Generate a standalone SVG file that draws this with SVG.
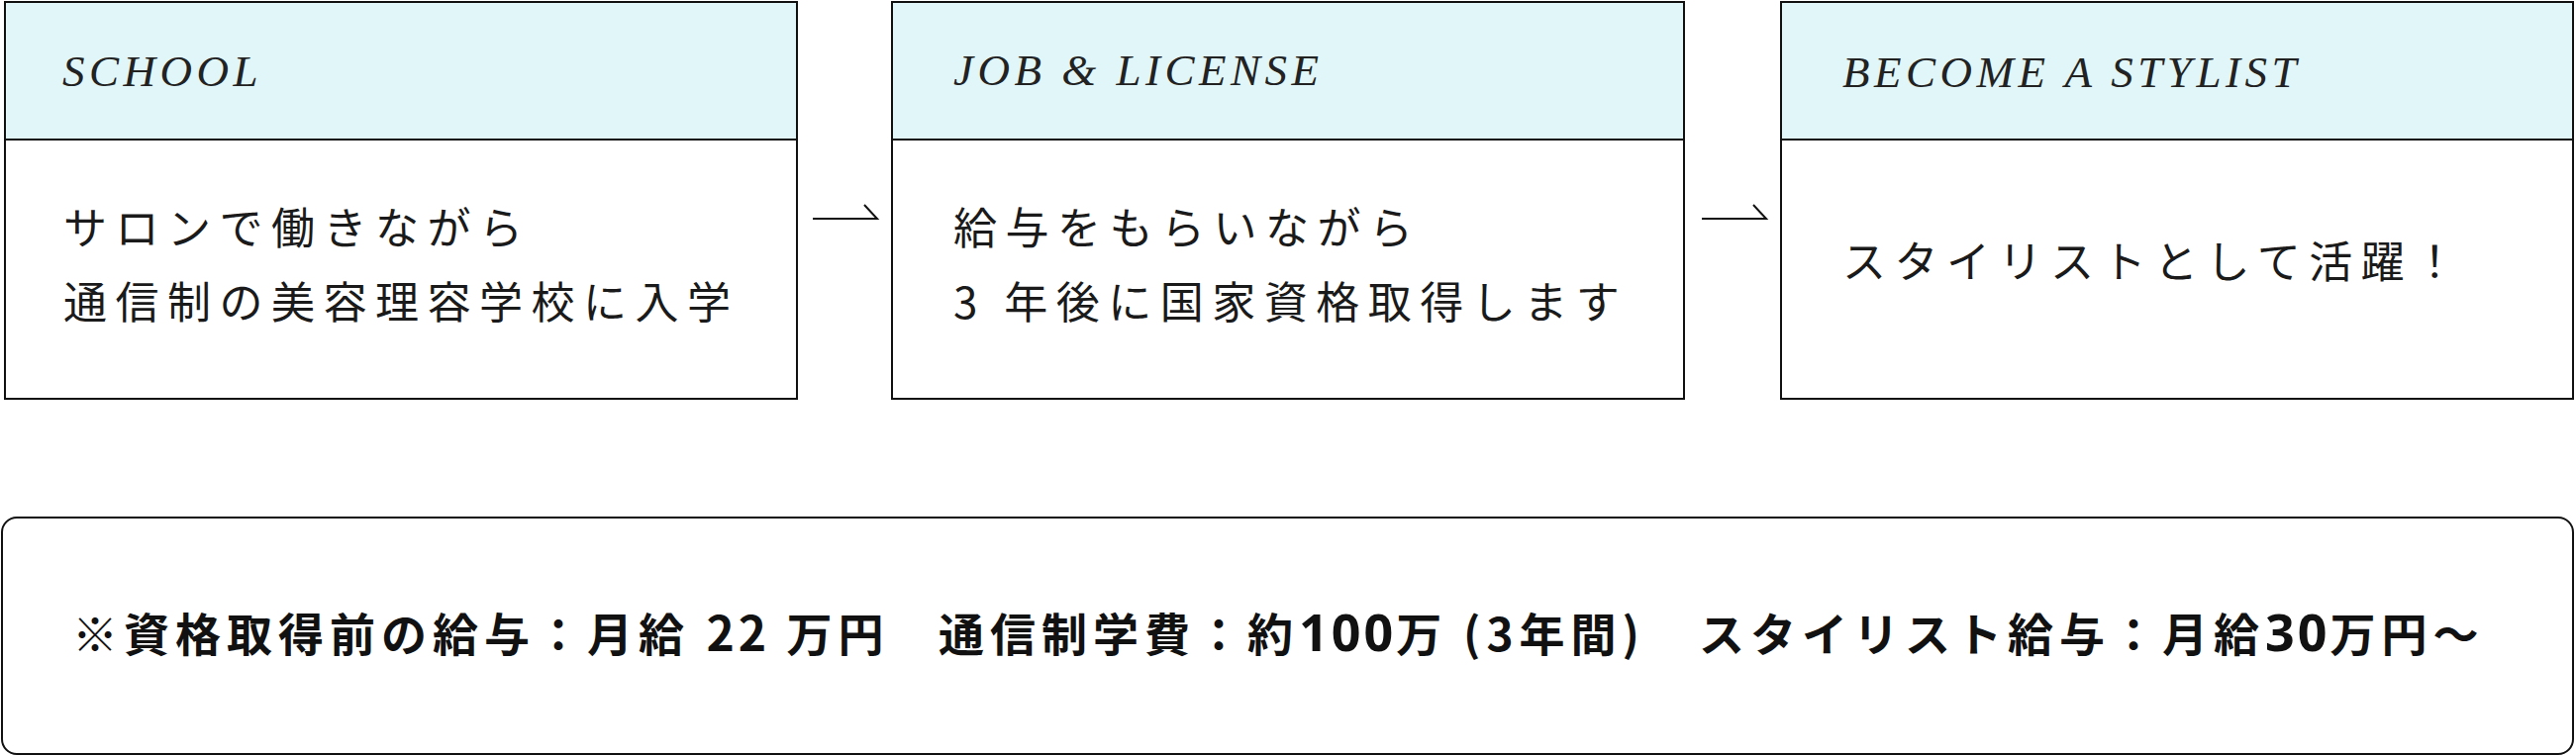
<svg xmlns="http://www.w3.org/2000/svg" width="2602" height="764" viewBox="0 0 2602 764">
  <style>
    .hdr { fill: #E1F6F9; stroke: #111; stroke-width: 2; }
    .bdy { fill: #FFFFFF; stroke: #111; stroke-width: 2; }
    .ttl { font-family: "Liberation Serif", "DejaVu Serif", serif; font-style: italic; font-size: 45px; letter-spacing: 4.5px; fill: #222; }
    .txt { font-family: "Noto Sans CJK JP", "Noto Sans", sans-serif; font-size: 44px; letter-spacing: 8.5px; fill: #1a1a1a; }
    .note { font-family: "Noto Sans CJK JP", "Noto Sans", sans-serif; font-size: 46px; font-weight: 700; letter-spacing: 6px; fill: #111; }
    .dg { font-size: 48px; letter-spacing: 4px; }
    .dw { font-family: "Noto Sans", "Noto Sans CJK JP", sans-serif; font-size: 52px; letter-spacing: 3px; }
    .conn { fill: none; stroke: #111; stroke-width: 2; }
  </style>
  <rect width="2602" height="764" fill="#FFFFFF"/>

  <g id="node-school">
    <rect class="hdr" x="5" y="2" width="800" height="139"/>
    <rect class="bdy" x="5" y="141" width="800" height="262"/>
    <text class="ttl" x="63" y="87">SCHOOL</text>
    <text class="txt" x="64" y="247">サロンで働きながら</text>
    <text class="txt" x="64" y="322">通信制の美容理容学校に入学</text>
  </g>

  <g id="node-job">
    <rect class="hdr" x="901" y="2" width="800" height="139"/>
    <rect class="bdy" x="901" y="141" width="800" height="262"/>
    <text class="ttl" x="963" y="86">JOB &amp; LICENSE</text>
    <text class="txt" x="963" y="247">給与をもらいながら</text>
    <text class="txt" x="963" y="322">3 年後に国家資格取得します</text>
  </g>

  <g id="node-stylist">
    <rect class="hdr" x="1799" y="2" width="800" height="139"/>
    <rect class="bdy" x="1799" y="141" width="800" height="262"/>
    <text class="ttl" x="1861" y="88">BECOME A STYLIST</text>
    <text class="txt" x="1861" y="281">スタイリストとして活躍！</text>
  </g>

  <g id="connectors">
    <path class="conn" d="M821 221 H886 L873 207"/>
    <path class="conn" d="M1719 221 H1784 L1771 207"/>
  </g>

  <g id="node-note">
    <rect x="2" y="523" width="2597" height="239" rx="15" ry="15" fill="#FFFFFF" stroke="#111" stroke-width="2"/>
    <text class="note" y="658"><tspan x="73">※資格取得前の給与：月給 </tspan><tspan class="dg">22</tspan><tspan> 万円</tspan><tspan x="948">通信制学費：約</tspan><tspan class="dw">100</tspan><tspan>万</tspan><tspan x="1478">(3年間)</tspan><tspan x="1716">スタイリスト給与：月給</tspan><tspan class="dw">30</tspan><tspan>万円～</tspan></text>
  </g>
</svg>
